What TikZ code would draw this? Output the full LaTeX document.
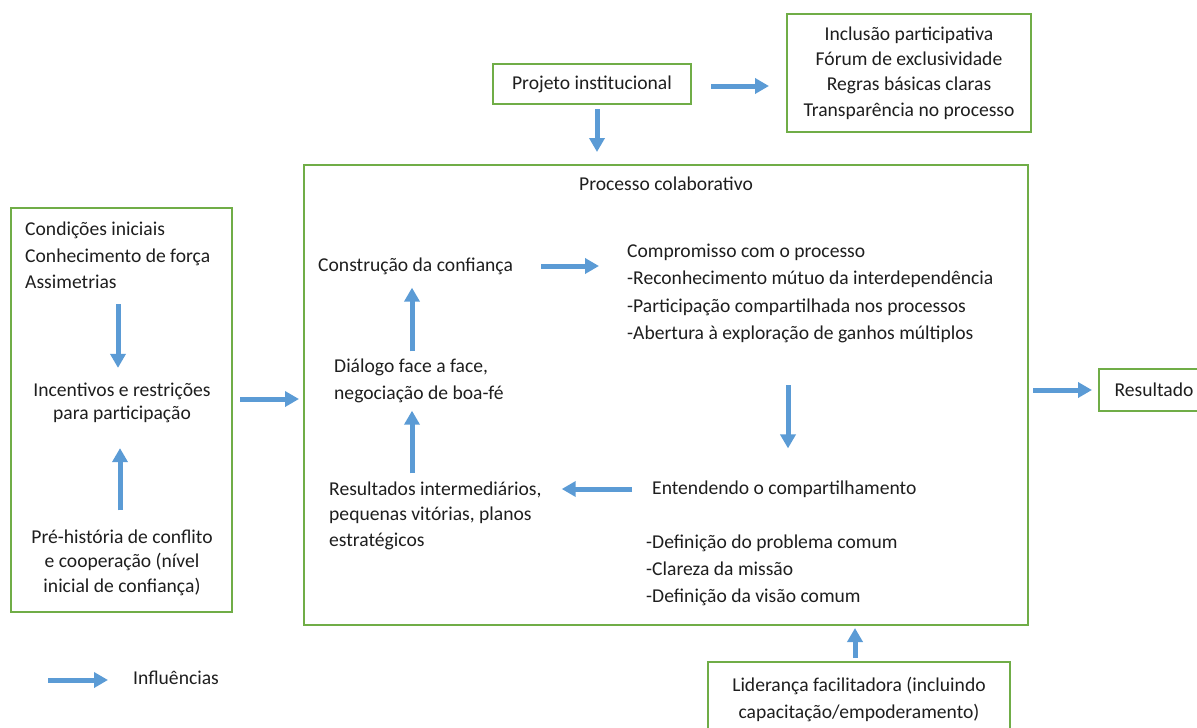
\documentclass[tikz,border=0pt]{standalone}
\usepackage{fontspec}
\setmainfont{Carlito}
\usetikzlibrary{arrows.meta}
\definecolor{boxgreen}{HTML}{70AD47}
\definecolor{flowblue}{HTML}{5B9BD5}
\definecolor{inktext}{HTML}{1E1E1E}
\begin{document}
\begin{tikzpicture}[x=1pt,y=-1pt,
  txt/.style={inner sep=0pt, text=inktext, font=\fontsize{19.6}{26}\selectfont},
  box/.style={draw=boxgreen, line width=2pt, inner sep=0pt},
  flow/.style={draw=flowblue, line width=5pt, -{Triangle[width=15pt,length=14pt]}}]
\clip (0,0) rectangle (1197,728);

% framed boxes
\node[box,txt,minimum width=198pt,minimum height=40pt] (proj) at (592,84) {Projeto institucional};
\node[box,txt,align=center,minimum width=244pt,minimum height=118pt,
      font=\fontsize{19.6}{25.3}\selectfont] (list) at (909,73)
  {Inclusão participativa\\Fórum de exclusividade\\Regras básicas claras\\Transparência no processo};
\node[box,minimum width=724pt,minimum height=460pt] (proc) at (666,395) {};
\node[txt] (proct) at (666,184) {Processo colaborativo};
\node[box,minimum width=221pt,minimum height=404pt] (left) at (121.5,410) {};
\node[box,txt,minimum width=110pt,minimum height=42pt,anchor=west] (res) at (1098,390) {Resultado};
\node[box,txt,align=center,minimum width=302pt,minimum height=74pt,
      font=\fontsize{19.6}{27}\selectfont] (lid) at (859,699)
  {Liderança facilitadora (incluindo\\capacitação/empoderamento)};

% left column
\node[txt,align=left,anchor=west,font=\fontsize{19.6}{26.5}\selectfont] (cond) at (25,255.5)
  {Condições iniciais\\Conhecimento de força\\Assimetrias};
\node[txt,align=center,font=\fontsize{19.6}{23}\selectfont] (inc) at (122,403)
  {Incentivos e restrições\\para participação};
\node[txt,align=center,font=\fontsize{19.6}{24.5}\selectfont] (pre) at (122,562.5)
  {Pré-história de conflito\\e cooperação (nível\\inicial de confiança)};

% collaborative process contents
\node[txt,anchor=west] (cons) at (318,266) {Construção da confiança};
\node[txt,align=left,anchor=west,font=\fontsize{19.6}{27}\selectfont] (dial) at (334,380.5)
  {Diálogo face a face,\\negociação de boa-fé};
\node[txt,align=left,anchor=west,font=\fontsize{19.6}{25.5}\selectfont] (rint) at (329,515.5)
  {Resultados intermediários,\\pequenas vitórias, planos\\estratégicos};
\node[txt,align=left,anchor=west,font=\fontsize{19.6}{27.3}\selectfont] (comp) at (627,293.5)
  {Compromisso com o processo\\-Reconhecimento mútuo da interdependência\\-Participação compartilhada nos processos\\-Abertura à exploração de ganhos múltiplos};
\node[txt,anchor=west] (ent) at (652,489) {Entendendo o compartilhamento};
\node[txt,align=left,anchor=west,font=\fontsize{19.6}{27}\selectfont] (def) at (646,570)
  {-Definição do problema comum\\-Clareza da missão\\-Definição da visão comum};

% legend
\node[txt,anchor=west] (infl) at (133,678) {Influências};
\coordinate (legs) at (48,680);

% influence arrows
\coordinate (a1) at ([xshift=-4pt]inc.north);
\draw[flow,shorten <=15pt,shorten >=15pt] (a1 |- cond.south) -- (a1);
\coordinate (a2) at ([xshift=-2pt]inc.south);
\draw[flow,shorten <=19pt,shorten >=25pt] (a2 |- pre.north) -- (a2);
\coordinate (a3) at ([yshift=11pt]left.east);
\draw[flow,shorten <=7pt,shorten >=4pt] (a3) -- (a3 -| proc.west);
\coordinate (a4) at ([yshift=-2pt]proj.east);
\draw[flow,shorten <=19pt,shorten >=17pt] (a4) -- (a4 -| list.west);
\coordinate (a5) at ([xshift=5pt]proj.south);
\draw[flow,shorten <=4pt,shorten >=12pt] (a5) -- (a5 |- proc.north);
\coordinate (a6) at (res.west -| proc.east);
\draw[flow,shorten <=4pt,shorten >=6pt] (a6) -- (res.west);
\coordinate (a7) at ([xshift=-4pt]lid.north);
\draw[flow,shorten <=3pt,shorten >=2pt] (a7) -- (a7 |- proc.south);
\draw[flow,shorten <=28pt,shorten >=28pt] (cons.east) -- (cons.east -| comp.west);
\coordinate (a9) at (cons.south -| 412,0);
\draw[flow,shorten <=7pt,shorten >=13pt] (a9 |- dial.north) -- (a9 |- cons.south);
\draw[flow,shorten <=8pt,shorten >=8pt] (a9 |- rint.north) -- (a9 |- dial.south);
\draw[flow,shorten <=20pt,shorten >=20pt] (ent.west) -- (ent.west -| rint.east);
\coordinate (a12) at (788,0);
\draw[flow,shorten <=42pt,shorten >=32pt] (a12 |- comp.south) -- (a12 |- ent.north);
\draw[flow,shorten >=25pt] (legs) -- (legs -| infl.west);
\end{tikzpicture}
\end{document}
